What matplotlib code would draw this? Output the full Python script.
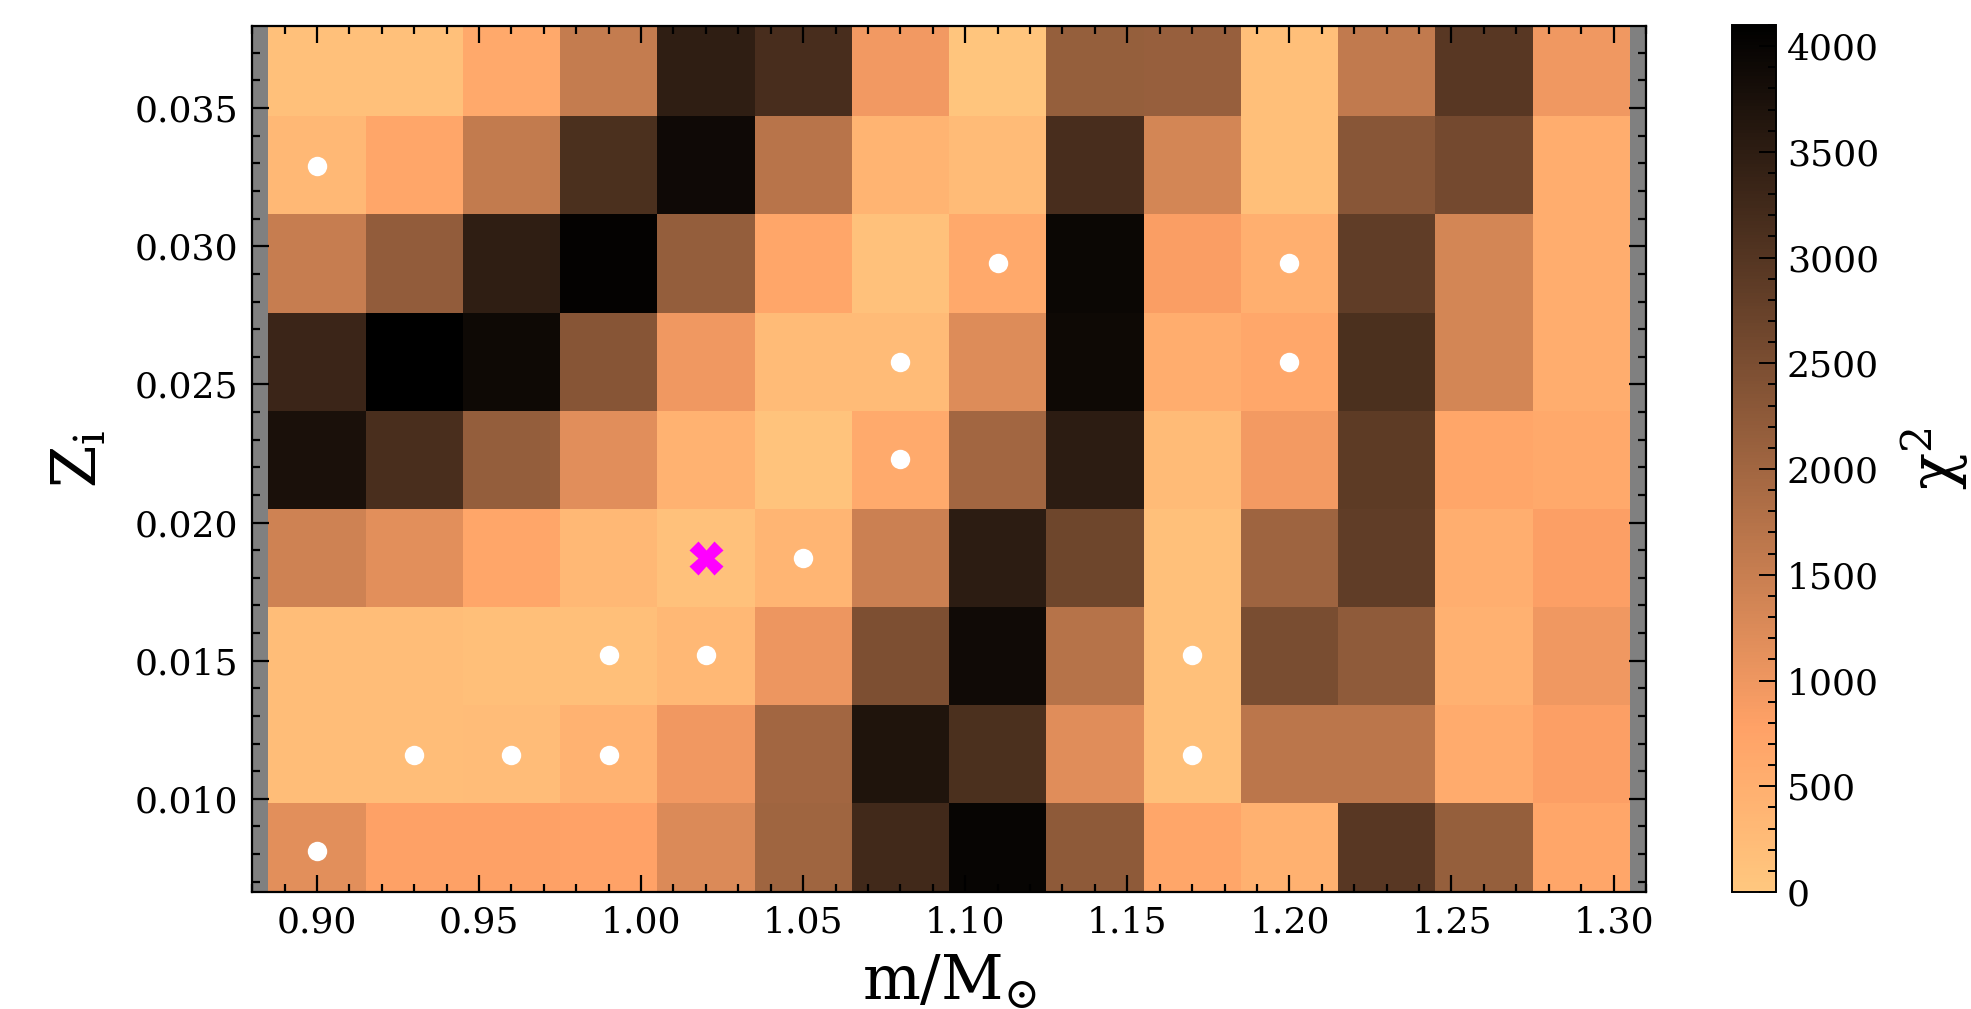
import numpy as np
import matplotlib
matplotlib.use("Agg")
import matplotlib.pyplot as plt
from matplotlib.ticker import MultipleLocator

plt.rcParams['font.family'] = 'DejaVu Serif'
plt.rcParams['mathtext.fontset'] = 'dejavuserif'

# grid of masses and initial metallicities
mass = [0.90, 0.93, 0.96, 0.99, 1.02, 1.05, 1.08, 1.11, 1.14, 1.17, 1.20, 1.23, 1.26, 1.29]
Z = [0.0081, 0.0116, 0.0152, 0.0187, 0.0223, 0.0258, 0.0294, 0.0329, 0.0365]

# chi2 per cell, rows = Z (bottom to top), columns = mass
chi2 = [
    [1160, 790, 790, 760, 1260, 2020, 3250, 4000, 2250, 700, 480, 2950, 2160, 700],
    [210, 210, 230, 440, 970, 2000, 3690, 3110, 1200, 150, 1670, 1670, 580, 830],
    [210, 210, 190, 180, 310, 1010, 2475, 3890, 1730, 150, 2520, 2230, 460, 990],
    [1420, 1160, 700, 330, 130, 375, 1470, 3520, 2660, 150, 2040, 2840, 520, 830],
    [3750, 3150, 2165, 1180, 440, 100, 620, 2000, 3520, 250, 930, 2890, 700, 640],
    [3320, 4100, 3910, 2350, 990, 270, 250, 1220, 3920, 560, 660, 3110, 1360, 560],
    [1530, 2200, 3480, 4050, 2165, 700, 130, 640, 3940, 850, 500, 2840, 1360, 560],
    [310, 700, 1570, 3110, 3900, 1710, 415, 270, 3170, 1360, 190, 2330, 2580, 560],
    [150, 150, 640, 1550, 3480, 3170, 950, 60, 2160, 2145, 190, 1590, 2950, 990],
]

# good models (white dots) and best model (magenta cross)
good_m = [0.90, 1.11, 1.20, 1.08, 1.20, 1.08, 1.05, 0.99, 1.02, 1.17, 0.93, 0.96, 0.99, 1.17, 0.90]
good_z = [0.0329, 0.0294, 0.0294, 0.0258, 0.0258, 0.0223, 0.0187, 0.0152, 0.0152, 0.0152,
          0.0116, 0.0116, 0.0116, 0.0116, 0.0081]
best_m = [1.02]
best_z = [0.0187]

fig = plt.figure(figsize=(19.71, 10.09), dpi=100)
ax = fig.add_axes([0.1279, 0.116, 0.7072, 0.8582])
ax.set_facecolor('gray')

mesh = ax.pcolormesh(mass, Z, np.array(chi2), cmap='copper_r', vmin=0, vmax=4100, shading='nearest')
ax.plot(good_m, good_z, 'o', color='white', ms=14, mec='none')
ax.plot(best_m, best_z, 'X', color='magenta', ms=24, mec='none')

ax.set_xlim(0.88, 1.31)
ax.set_ylim(0.00663, 0.03797)
ax.xaxis.set_major_locator(MultipleLocator(0.05))
ax.xaxis.set_minor_locator(MultipleLocator(0.01))
ax.yaxis.set_major_locator(MultipleLocator(0.005))
ax.yaxis.set_minor_locator(MultipleLocator(0.001))
ax.tick_params(which='both', direction='in', top=True, right=True, labelsize=26, width=1.6)
ax.tick_params(which='major', length=12, pad=10)
ax.tick_params(which='minor', length=6)
for s in ax.spines.values():
    s.set_linewidth(1.6)

ax.set_xlabel(r'$\mathrm{m/M_{\odot}}$', fontsize=44, labelpad=9)
ax.set_ylabel(r'$\mathrm{Z_i}$', fontsize=44, labelpad=18)

cax = fig.add_axes([0.8787, 0.116, 0.0223, 0.8592])
cb = fig.colorbar(mesh, cax=cax)
cb.set_ticks(np.arange(0, 4001, 500))
cb.ax.yaxis.set_minor_locator(MultipleLocator(100))
cb.ax.tick_params(which='both', direction='in', labelsize=26, width=1.4)
cb.ax.tick_params(which='major', length=12, pad=8)
cb.ax.tick_params(which='minor', length=6)
cb.outline.set_linewidth(1.4)
cb.set_label(r'$\mathrm{\chi}^2$', fontsize=44, labelpad=14)

plt.savefig("out.png", dpi=100)
plt.close()
